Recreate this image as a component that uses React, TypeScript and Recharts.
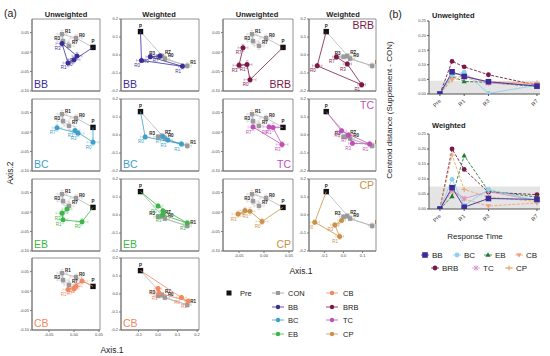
import React from 'react';
import { ScatterChart, Scatter, ErrorBar, LineChart, Line, XAxis, YAxis, ReferenceArea } from 'recharts';

const FONT = '"Liberation Sans", Arial, Helvetica, sans-serif';

const timePoints = ['P', 'R0', 'R1', 'R3', 'R7'];

// CON (grey) with the shared Pre point first: P, R0, R1, R3, R7
const conUnwX = [0.038, 0.004, -0.024, -0.022, -0.01];
const conUnwY = [0.012, 0.036, 0.046, 0.028, 0.016];
const conWX = [-0.09, 0.035, 0.15, 0.0, 0.02];
const conWY = [0.13, -0.02, -0.06, -0.01, -0.005];

// spread (SE) of the group centroids, P R0 R1 R3 R7
const errUnwX = [0.004, 0.012, 0.01, 0.012, 0.01];
const errUnwY = [0.004, 0.008, 0.01, 0.008, 0.009];
const errWX = [0.008, 0.025, 0.02, 0.022, 0.02];
const errWY = [0.008, 0.012, 0.015, 0.012, 0.012];

// supplements: R0, R1, R3, R7
const bbUnwX = [0.0, -0.012, -0.024, 0.006];
const bbUnwY = [-0.02, -0.028, 0.022, -0.01];
const bbWX = [-0.085, 0.125, -0.04, 0.01];
const bbWY = [-0.03, -0.063, -0.01, -0.005];

const bcUnwX = [0.038, 0.002, 0.008, -0.034];
const bcUnwY = [-0.026, 0.004, -0.003, 0.011];
const bcWX = [-0.066, 0.12, 0.05, 0.025];
const bcWY = [-0.011, -0.05, -0.028, -0.008];

const ebUnwX = [0.016, -0.022, -0.024, -0.014];
const ebUnwY = [-0.025, -0.02, -0.003, 0.008];
const ebWX = [0.0, 0.15, 0.025, 0.025];
const ebWY = [0.05, -0.045, 0.0, 0.022];

const cbUnwX = [0.016, -0.012, 0.004, 0.0];
const cbUnwY = [0.026, 0.004, 0.012, 0.006];
const cbWX = [0.12, 0.155, 0.005, 0.0];
const cbWY = [-0.02, -0.04, 0.005, 0.03];

const brbUnwX = [-0.028, -0.034, -0.05, -0.042];
const brbUnwY = [-0.071, -0.032, -0.034, 0.011];
const brbWX = [-0.137, 0.095, 0.02, -0.037];
const brbWY = [-0.06, -0.165, -0.05, -0.011];

const tcUnwX = [0.01, 0.018, 0.036, -0.022];
const tcUnwY = [0.013, 0.012, -0.032, 0.013];
const tcWX = [-0.01, 0.137, 0.047, 0.026];
const tcWY = [0.023, -0.05, -0.046, 0.0];

const cpUnwX = [-0.004, -0.028, -0.052, -0.038];
const cpUnwY = [-0.024, 0.002, -0.005, 0.004];
const cpWX = [-0.15, -0.02, -0.045, -0.01];
const cpWY = [-0.04, -0.12, -0.055, -0.03];

// panel (b): centroid distance by response time
const days = [-1, 0, 1, 3, 7];
const dayNames = ['Pre', 'R0', 'R1', 'R3', 'R7'];

const unwBB = [0, 0.076, 0.06, 0.042, 0.027];
const unwBC = [0, 0.064, 0.075, 0.002, 0.03];
const unwEB = [0, 0.06, 0.043, 0.04, 0.025];
const unwCB = [0, 0.048, 0.055, 0.04, 0.035];
const unwBRB = [0, 0.112, 0.093, 0.066, 0.03];
const unwTC = [0, 0.07, 0.065, 0.037, 0.03];
const unwCP = [0, 0.058, 0.06, 0.042, 0.038];
const unwBand = 0.045;

const wBB = [0, 0.071, 0.006, 0.035, 0.032];
const wBC = [0, 0.099, 0.012, 0.065, 0.028];
const wEB = [0, 0.042, 0.178, 0.06, 0.04];
const wCB = [0, 0.06, 0.033, 0.01, 0.02];
const wBRB = [0, 0.2, 0.132, 0.056, 0.048];
const wTC = [0, 0.065, 0.035, 0.058, 0.028];
const wCP = [0, 0.18, 0.065, 0.04, 0.025];
const wBand = 0.075;

const COLORS: Record<string, string> = {
  BB: '#3a2d98',
  BC: '#3ea0c8',
  EB: '#3db54a',
  CB: '#f08860',
  BRB: '#7b1848',
  TC: '#c04fb5',
  CP: '#c99249',
  CON: '#999999',
};

const groups = [
  { name: 'BB', ux: bbUnwX, uy: bbUnwY, wx: bbWX, wy: bbWY },
  { name: 'BC', ux: bcUnwX, uy: bcUnwY, wx: bcWX, wy: bcWY },
  { name: 'EB', ux: ebUnwX, uy: ebUnwY, wx: ebWX, wy: ebWY },
  { name: 'CB', ux: cbUnwX, uy: cbUnwY, wx: cbWX, wy: cbWY },
  { name: 'BRB', ux: brbUnwX, uy: brbUnwY, wx: brbWX, wy: brbWY },
  { name: 'TC', ux: tcUnwX, uy: tcUnwY, wx: tcWX, wy: tcWY },
  { name: 'CP', ux: cpUnwX, uy: cpUnwY, wx: cpWX, wy: cpWY },
];

const rowTops = [19, 99, 179, 258];
const BOX_H = 72;

const conShape = (p: any) => {
  const { cx, cy, payload } = p;
  if (payload.t === 'P') {
    return (
      <g>
        <rect x={cx - 2.7} y={cy - 2.7} width={5.4} height={5.4} fill="#111" />
        <text x={cx} y={cy - 4} fontSize={4.5} fontWeight="bold" textAnchor="middle" fill="#111">P</text>
      </g>
    );
  }
  const left = payload.t === 'R3';
  return (
    <g>
      <rect x={cx - 2.2} y={cy - 2.2} width={4.4} height={4.4} fill="#9a9a9a" />
      <text x={left ? cx - 3 : cx + 3} y={cy - 1.5} fontSize={4.5} fontWeight="bold" fill="#222" textAnchor={left ? 'end' : 'start'}>
        {payload.t}
      </text>
    </g>
  );
};

const supShape = (color: string) => (p: any) => {
  const { cx, cy, payload } = p;
  if (payload.t === 'P') return <g />;
  return (
    <g>
      <circle cx={cx} cy={cy} r={2.5} fill={color} />
      <text x={cx - 1.5} y={cy + 6.5} fontSize={4.5} fill={color} textAnchor="end">{payload.t}</text>
    </g>
  );
};

function Panel({ g, row, weighted, right, showX }: any) {
  const YW = 20;
  const MT = 6;
  const MR = 10;
  const XH = 10;
  const bx = right ? (weighted ? 309 : 223) : weighted ? 121 : 32;
  const bw = right ? (weighted ? 67 : 70) : weighted ? 78 : 68;
  const top = rowTops[row];
  const cx = weighted ? conWX : conUnwX;
  const cy = weighted ? conWY : conUnwY;
  const ex = weighted ? errWX : errUnwX;
  const ey = weighted ? errWY : errUnwY;
  const sx = weighted ? g.wx : g.ux;
  const sy = weighted ? g.wy : g.uy;
  const con = timePoints.map((t, i) => ({ x: cx[i], y: cy[i], ex: i === 0 ? 0 : ex[i], ey: i === 0 ? 0 : ey[i], t }));
  const sup = timePoints.map((t, i) =>
    i === 0 ? { x: cx[0], y: cy[0], ex: 0, ey: 0, t } : { x: sx[i - 1], y: sy[i - 1], ex: ex[i], ey: ey[i], t }
  );
  const xDom = weighted ? (right ? [-0.18, 0.17] : [-0.19, 0.21]) : right ? [-0.082, 0.058] : [-0.084, 0.052];
  const yDom = weighted ? [-0.2, 0.2] : [-0.1, 0.085];
  const xTicks = weighted ? (right ? [-0.1, 0, 0.1] : [-0.1, 0, 0.1, 0.2]) : [-0.05, 0, 0.05];
  const yTicks = weighted ? [-0.2, -0.1, 0, 0.1, 0.2] : [-0.1, -0.05, 0, 0.05];
  const fmt = (v: number) => v.toFixed(weighted ? 1 : 2);
  const color = COLORS[g.name];
  return (
    <div style={{ position: 'absolute', left: bx - YW, top: top - MT }}>
      <ScatterChart width={YW + bw + MR} height={MT + BOX_H + XH} margin={{ top: MT, right: MR, bottom: 0, left: 0 }}>
        <XAxis
          type="number"
          dataKey="x"
          domain={xDom}
          ticks={xTicks}
          allowDataOverflow
          height={XH}
          tick={showX ? { fontSize: 4, fill: '#444' } : false}
          tickSize={2}
          tickMargin={1}
          tickFormatter={fmt}
          stroke="#777"
        />
        <YAxis
          type="number"
          dataKey="y"
          domain={yDom}
          ticks={yTicks}
          allowDataOverflow
          width={YW}
          tick={{ fontSize: 4, fill: '#444' }}
          tickSize={2}
          tickMargin={1}
          tickFormatter={fmt}
          stroke="#777"
        />
        <ReferenceArea x1={xDom[0]} x2={xDom[1]} y1={yDom[0]} y2={yDom[1]} fill="none" stroke="#777" strokeWidth={0.8} />
        <Scatter data={con} line={{ stroke: '#b5b5b5', strokeWidth: 0.8 }} shape={conShape} isAnimationActive={false}>
          <ErrorBar dataKey="ex" direction="x" width={1.5} stroke="#bbb" strokeWidth={0.5} />
          <ErrorBar dataKey="ey" direction="y" width={1.5} stroke="#bbb" strokeWidth={0.5} />
        </Scatter>
        <Scatter data={sup} line={{ stroke: color, strokeWidth: 0.8 }} shape={supShape(color)} isAnimationActive={false}>
          <ErrorBar dataKey="ex" direction="x" width={1.5} stroke={color} strokeOpacity={0.55} strokeWidth={0.5} />
          <ErrorBar dataKey="ey" direction="y" width={1.5} stroke={color} strokeOpacity={0.55} strokeWidth={0.5} />
        </Scatter>
      </ScatterChart>
    </div>
  );
}

function Marker({ cx, cy, shape, color }: any) {
  if (shape === 'square') return <rect x={cx - 2.8} y={cy - 2.8} width={5.6} height={5.6} fill={color} />;
  if (shape === 'circle') return <circle cx={cx} cy={cy} r={2.4} fill={color} />;
  if (shape === 'diamond') return <circle cx={cx} cy={cy} r={2.4} fill={color} />;
  if (shape === 'tri') return <path d={`M${cx},${cy - 2.8}L${cx + 2.6},${cy + 1.8}L${cx - 2.6},${cy + 1.8}Z`} fill={color} />;
  if (shape === 'itri') return <path d={`M${cx},${cy + 2.8}L${cx + 2.6},${cy - 1.8}L${cx - 2.6},${cy - 1.8}Z`} fill={color} />;
  if (shape === 'x')
    return (
      <path d={`M${cx - 2.2},${cy - 2.2}L${cx + 2.2},${cy + 2.2}M${cx - 2.2},${cy + 2.2}L${cx + 2.2},${cy - 2.2}M${cx},${cy - 2.6}V${cy + 2.6}`} stroke={color} strokeWidth={1} />
    );
  return <path d={`M${cx - 2.6},${cy}H${cx + 2.6}M${cx},${cy - 2.6}V${cy + 2.6}`} stroke={color} strokeWidth={1.1} />;
}

const lineSeries = [
  { key: 'BRB', color: '#7b1848', dash: '3 1.5', shape: 'circle' },
  { key: 'EB', color: '#1f7a37', dash: '3 1.5', shape: 'tri' },
  { key: 'CP', color: '#e6a865', dash: '3 1.5', shape: 'plus' },
  { key: 'CB', color: '#f4a07c', dash: '3 1.5', shape: 'itri' },
  { key: 'TC', color: '#d890d4', dash: undefined, shape: 'x' },
  { key: 'BC', color: '#8fd0ea', dash: undefined, shape: 'diamond' },
  { key: 'BB', color: '#3a2d98', dash: undefined, shape: 'square' },
];

const unwRows = days.map((d, i) => ({ day: d, BB: unwBB[i], BC: unwBC[i], EB: unwEB[i], CB: unwCB[i], BRB: unwBRB[i], TC: unwTC[i], CP: unwCP[i] }));
const wRows = days.map((d, i) => ({ day: d, BB: wBB[i], BC: wBC[i], EB: wEB[i], CB: wCB[i], BRB: wBRB[i], TC: wTC[i], CP: wCP[i] }));

const DayTick = ({ x, y, payload }: any) => (
  <g transform={`translate(${x},${y + 2}) rotate(-45)`}>
    <text textAnchor="end" fontSize={5.5} fill="#333" dy={2}>
      {dayNames[days.indexOf(payload.value)]}
    </text>
  </g>
);

function Distance({ data, top, boxH, band }: any) {
  const YW = 22;
  const MT = 4;
  const xDom = [-1.9, 7.25];
  return (
    <div style={{ position: 'absolute', left: 429 - YW, top: top - MT }}>
      <LineChart width={YW + 111 + 6} height={MT + boxH + 18} data={data} margin={{ top: MT, right: 6, bottom: 0, left: 0 }}>
        <XAxis type="number" dataKey="day" domain={xDom} ticks={days} allowDataOverflow height={18} tick={<DayTick />} tickSize={2} stroke="#555" />
        <YAxis
          type="number"
          domain={[0, 0.25]}
          ticks={[0, 0.05, 0.1, 0.15, 0.2, 0.25]}
          allowDataOverflow
          width={YW}
          tick={{ fontSize: 4, fill: '#444' }}
          tickSize={2}
          tickMargin={1}
          tickFormatter={(v: number) => v.toFixed(2)}
          stroke="#555"
        />
        <ReferenceArea x1={xDom[0]} x2={xDom[1]} y1={0} y2={band} fill="#e4e4e4" fillOpacity={1} stroke="none" />
        {lineSeries.map((s) => (
          <Line
            key={s.key}
            dataKey={s.key}
            stroke={s.color}
            strokeWidth={0.9}
            strokeDasharray={s.dash}
            isAnimationActive={false}
            dot={(p: any) => <Marker key={p.index} cx={p.cx} cy={p.cy} shape={s.shape} color={s.color} />}
          />
        ))}
      </LineChart>
    </div>
  );
}

export default function App() {
  const namePos = (row: number, right: boolean, weighted: boolean, bx: number, bw: number, name: string) => {
    const top = rowTops[row];
    if (!right) return { x: bx + 2, y: top + BOX_H - 3, anchor: 'start', name };
    if (!weighted) return { x: bx + bw - 2, y: top + BOX_H - 3, anchor: 'end', name };
    return { x: bx + bw - 2, y: top + 10, anchor: 'end', name };
  };
  const names: any[] = [];
  groups.forEach((g, i) => {
    const right = i >= 4;
    const row = right ? i - 4 : i;
    names.push({ ...namePos(row, right, false, right ? 223 : 32, right ? 70 : 68, g.name), color: COLORS[g.name] });
    names.push({ ...namePos(row, right, true, right ? 309 : 121, right ? 67 : 78, g.name), color: COLORS[g.name] });
  });

  const legA1 = ['CON', 'BB', 'BC', 'EB'];
  const legA2 = ['CB', 'BRB', 'TC', 'CP'];
  const legRows = [293, 307, 320, 334];
  const legB = [
    { k: 'BB', x: 425, y: 255 },
    { k: 'BC', x: 457, y: 255 },
    { k: 'EB', x: 488, y: 255 },
    { k: 'CB', x: 519, y: 255 },
    { k: 'BRB', x: 435, y: 268 },
    { k: 'TC', x: 476, y: 268 },
    { k: 'CP', x: 509, y: 268 },
  ];

  return (
    <div style={{ position: 'absolute', left: 0, top: 0, width: 550, height: 356, background: '#fff', fontFamily: FONT }}>
      {groups.map((g, i) => {
        const right = i >= 4;
        const row = right ? i - 4 : i;
        const showX = right ? row === 2 : row === 3;
        return (
          <React.Fragment key={g.name}>
            <Panel g={g} row={row} weighted={false} right={right} showX={showX} />
            <Panel g={g} row={row} weighted={true} right={right} showX={showX} />
          </React.Fragment>
        );
      })}
      <Distance data={unwRows} top={21} boxH={73} band={unwBand} />
      <Distance data={wRows} top={134} boxH={75} band={wBand} />

      <svg width={550} height={356} style={{ position: 'absolute', left: 0, top: 0, pointerEvents: 'none' }} fontFamily={FONT}>
        <text x={4} y={17} fontSize={10.5} fill="#222">(a)</text>
        <text x={389} y={18} fontSize={10.5} fill="#222">(b)</text>
        <text x={66} y={17} fontSize={7.5} fontWeight="bold" textAnchor="middle" fill="#222">Unweighted</text>
        <text x={159} y={17} fontSize={7.5} fontWeight="bold" textAnchor="middle" fill="#222">Weighted</text>
        <text x={257} y={17} fontSize={7.5} fontWeight="bold" textAnchor="middle" fill="#222">Unweighted</text>
        <text x={343} y={17} fontSize={7.5} fontWeight="bold" textAnchor="middle" fill="#222">Weighted</text>
        <text x={432} y={18} fontSize={7.5} fontWeight="bold" fill="#222">Unweighted</text>
        <text x={432} y={128} fontSize={7.5} fontWeight="bold" fill="#222">Weighted</text>

        {names.map((n, i) => (
          <text key={i} x={n.x} y={n.y} fontSize={10.5} textAnchor={n.anchor} fill={n.color}>{n.name}</text>
        ))}

        <text x={0} y={0} fontSize={8.5} textAnchor="middle" fill="#222" transform="translate(13,173) rotate(-90)">Axis.2</text>
        <text x={112} y={353} fontSize={8.5} textAnchor="middle" fill="#222">Axis.1</text>
        <text x={301} y={274} fontSize={8.5} textAnchor="middle" fill="#222">Axis.1</text>
        <text x={0} y={0} fontSize={8} textAnchor="middle" fill="#222" transform="translate(392,110) rotate(-90)">Centroid distance (Supplement - CON)</text>
        <text x={475} y={239} fontSize={8} textAnchor="middle" fill="#222">Response Time</text>

        <rect x={226.5} y={290.5} width={5} height={5} fill="#111" />
        <text x={240} y={296} fontSize={7.5} fill="#222">Pre</text>
        {legA1.map((k, i) => (
          <g key={k}>
            <line x1={272} x2={284} y1={legRows[i]} y2={legRows[i]} stroke={COLORS[k]} strokeWidth={0.8} />
            {k === 'CON' ? (
              <rect x={276} y={legRows[i] - 2} width={4} height={4} fill={COLORS[k]} />
            ) : (
              <circle cx={278} cy={legRows[i]} r={2.2} fill={COLORS[k]} />
            )}
            <text x={288} y={legRows[i] + 3} fontSize={7.5} fill="#222">{k}</text>
          </g>
        ))}
        {legA2.map((k, i) => (
          <g key={k}>
            <line x1={326} x2={338} y1={legRows[i]} y2={legRows[i]} stroke={COLORS[k]} strokeWidth={0.8} />
            <circle cx={332} cy={legRows[i]} r={2.2} fill={COLORS[k]} />
            <text x={343} y={legRows[i] + 3} fontSize={7.5} fill="#222">{k}</text>
          </g>
        ))}

        {legB.map((l) => {
          const s = lineSeries.find((q) => q.key === l.k)!;
          return (
            <g key={l.k}>
              <line x1={l.x - 4} x2={l.x + 4} y1={l.y} y2={l.y} stroke={s.color} strokeWidth={0.8} />
              <Marker cx={l.x} cy={l.y} shape={s.shape} color={s.color} />
              <text x={l.x + 7} y={l.y + 3} fontSize={8} fill="#222">{l.k}</text>
            </g>
          );
        })}
      </svg>
    </div>
  );
}
